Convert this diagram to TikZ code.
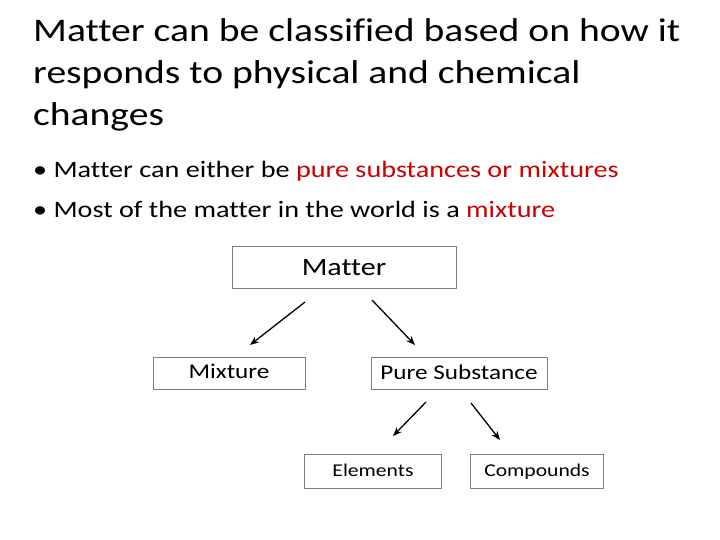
\documentclass[tikz,border=0pt]{standalone}
\usepackage{fontspec}
\setmainfont[FakeStretch=1.2,Ligatures=NoCommon]{Carlito}
\usetikzlibrary{positioning,arrows.meta}
\definecolor{hl}{RGB}{204,0,0}
\definecolor{boxline}{RGB}{110,130,150}
\begin{document}
\begin{tikzpicture}[x=1pt,y=-1pt]
    \tikzset{
      >={Stealth[length=9pt,width=7pt]},
      every box/.style={draw=boxline, thick, inner sep=0pt, text depth=0.25em},
      arr/.style={->, line width=1.3pt},
    }
    \useasboundingbox (0,0) rectangle (720,540);
    \node[anchor=north west, align=left, font=\fontsize{33}{42}\selectfont, inner sep=0pt] (title) at (33,18)
      {Matter can be classified based on how it\\responds to physical and chemical\\changes};
    \node[anchor=base west, font=\fontsize{23.5}{26}\selectfont, inner sep=0pt] (b1) at (33,178)
      {\textbullet\ Matter can either be \textcolor{hl}{pure substances or mixtures}};
    \node[anchor=base west, font=\fontsize{23.5}{26}\selectfont, inner sep=0pt] (b2) at (33,218)
      {\textbullet\ Most of the matter in the world is a \textcolor{hl}{mixture}};

    \node[every box, minimum width=224, minimum height=42] (matter) at (344,267) {};
    \node[font=\fontsize{25}{28}\selectfont] at (344,268) {Matter};
    \node[every box, minimum width=152, minimum height=32, font=\fontsize{21}{24}\selectfont] (mix) at (229,373) {Mixture};
    \node[every box, minimum width=176, minimum height=32, font=\fontsize{21}{24}\selectfont] (pure) at (459,373) {Pure Substance};
    \node[every box, minimum width=137, minimum height=34, font=\fontsize{18}{22}\selectfont] (elem) at (373,471) {Elements};
    \node[every box, minimum width=133, minimum height=34, font=\fontsize{18}{22}\selectfont] (comp) at (537,471) {Compounds};

    \coordinate (a1s) at (305,302); \coordinate (a1e) at (250,345);
    \coordinate (a2s) at (372,300); \coordinate (a2e) at (415,345);
    \coordinate (a3s) at (426,402); \coordinate (a3e) at (393,436);
    \coordinate (a4s) at (471,403); \coordinate (a4e) at (500,440);
    \draw[arr] (a1s) -- (a1e);
    \draw[arr] (a2s) -- (a2e);
    \draw[arr] (a3s) -- (a3e);
    \draw[arr] (a4s) -- (a4e);
  \end{tikzpicture}
\end{document}
